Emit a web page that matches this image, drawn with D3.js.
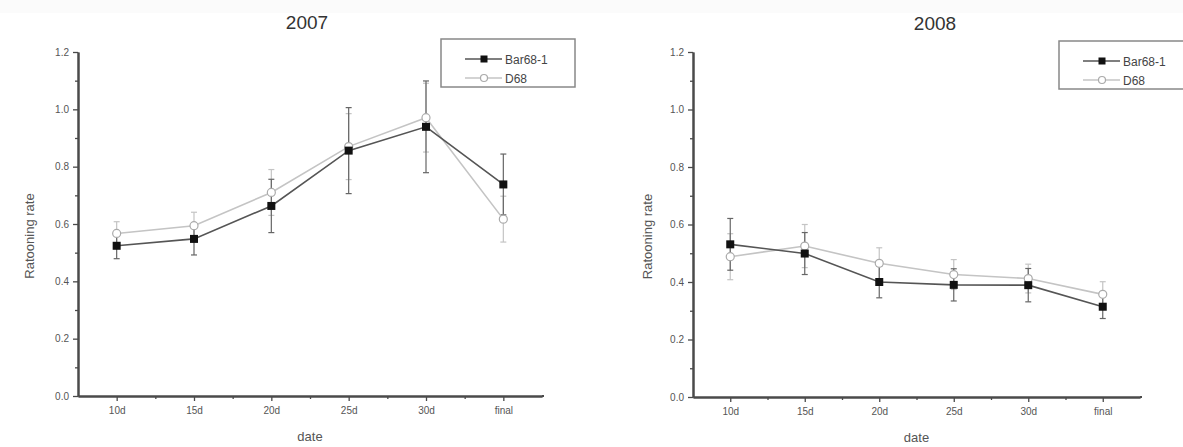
<!DOCTYPE html>
<html><head><meta charset="utf-8">
<script src="https://cdn.jsdelivr.net/npm/d3@7"></script>
<style>
body{margin:0;background:#fff;}
svg{display:block;font-family:"Liberation Sans",Arial,sans-serif;}
</style></head>
<body>
<svg id="c" width="1183" height="447"></svg>
<script>
const categories = ["10d","15d","20d","25d","30d","final"];
const yTicks = [0.0,0.2,0.4,0.6,0.8,1.0,1.2];
const seriesNames = ["Bar68-1","D68"];
const titles = ["2007","2008"];

const bar2007 = [0.524,0.548,0.663,0.856,0.939,0.738];
const bar2007Err = [0.045,0.056,0.093,0.150,0.160,0.106];
const d2007 = [0.567,0.594,0.710,0.870,0.971,0.617];
const d2007Err = [0.041,0.047,0.080,0.115,0.120,0.080];

const bar2008 = [0.531,0.499,0.400,0.390,0.389,0.314];
const bar2008Err = [0.090,0.073,0.055,0.056,0.058,0.041];
const d2008 = [0.488,0.525,0.465,0.426,0.412,0.357];
const d2008Err = [0.080,0.075,0.054,0.052,0.050,0.044];

const svg = d3.select("#c");
svg.append("rect").attr("x",0).attr("y",0).attr("width",1183).attr("height",13).attr("fill","#fbfbfb");

const panels = [
  {title:titles[0], bar:bar2007, barErr:bar2007Err, d:d2007, dErr:d2007Err,
   x0:78, x1:542, y0:396, y1:52, titleX:307, titleY:29, ylabX:34, legend:{x:441,y:39,w:134,h:48}},
  {title:titles[1], bar:bar2008, barErr:bar2008Err, d:d2008, dErr:d2008Err,
   x0:693, x1:1140, y0:397, y1:52, titleX:935, titleY:30, ylabX:652, legend:{x:1059,y:41,w:140,h:48}}
];

const light = "#c4c4c4", axisCol = "#4a4a4a", textCol = "#555";

panels.forEach(p => {
  const g = svg.append("g");
  const x = d3.scalePoint().domain(categories).range([p.x0, p.x1]).padding(0.5);
  const y = d3.scaleLinear().domain([0,1.2]).range([p.y0, p.y1]);

  const yAx = g.append("g").attr("transform",`translate(${p.x0},0)`)
    .call(d3.axisLeft(y).tickValues(yTicks).tickFormat(d3.format(".1f")).tickSize(5).tickPadding(4).tickSizeOuter(0));
  const yMinor = g.append("g").attr("transform",`translate(${p.x0},0)`)
    .call(d3.axisLeft(y).tickValues(d3.range(0.1,1.2,0.2)).tickFormat("").tickSize(3).tickSizeOuter(0));
  const xAx = g.append("g").attr("transform",`translate(0,${p.y0})`)
    .call(d3.axisBottom(x).tickSize(5).tickPadding(6).tickSizeOuter(0));
  const xMinorScale = d3.scaleLinear().domain([0,6]).range([p.x0,p.x1]);
  const xMinor = g.append("g").attr("transform",`translate(0,${p.y0})`)
    .call(d3.axisBottom(xMinorScale).tickValues([1,2,3,4,5]).tickFormat("").tickSize(3).tickSizeOuter(0));
  [yAx,yMinor,xAx,xMinor].forEach(a=>{
    a.select(".domain").attr("stroke",axisCol).attr("stroke-width",2);
    a.selectAll(".tick line").attr("stroke",axisCol).attr("stroke-width",1.3);
    a.selectAll(".tick text").attr("fill",textCol).attr("font-size",10);
  });
  g.append("line").attr("x1",p.x1).attr("x2",p.x1+2).attr("y1",p.y0).attr("y2",p.y0).attr("stroke",axisCol).attr("stroke-width",2);

  g.append("text").attr("x",p.titleX).attr("y",p.titleY).attr("text-anchor","middle")
    .attr("font-size",19).attr("fill","#333").text(p.title);
  g.append("text").attr("x",(p.x0+p.x1)/2).attr("y",p.y0+45).attr("text-anchor","middle")
    .attr("font-size",13).attr("fill","#555").text("date");
  g.append("text").attr("transform",`translate(${p.ylabX},${(p.y0+p.y1)/2+12}) rotate(-90)`)
    .attr("text-anchor","middle").attr("font-size",13).attr("fill","#555").text("Ratooning rate");

  const line = d3.line().x((d,i)=>x(categories[i])).y(d=>y(d));

  function errBars(vals, errs, col){
    const eg = g.append("g").attr("stroke",col).attr("stroke-width",1.2);
    vals.forEach((v,i)=>{
      const cx = x(categories[i]);
      eg.append("line").attr("x1",cx).attr("x2",cx).attr("y1",y(v-errs[i])).attr("y2",y(v+errs[i]));
      [v-errs[i], v+errs[i]].forEach(t=>{
        eg.append("line").attr("x1",cx-3).attr("x2",cx+3).attr("y1",y(t)).attr("y2",y(t));
      });
    });
  }
  errBars(p.d, p.dErr, light);
  errBars(p.bar, p.barErr, "#666");

  g.append("path").datum(p.d).attr("d",line).attr("fill","none").attr("stroke",light).attr("stroke-width",1.6);
  g.append("path").datum(p.bar).attr("d",line).attr("fill","none").attr("stroke","#555").attr("stroke-width",1.6);

  g.selectAll(".dmark").data(p.d).enter().append("circle")
    .attr("cx",(d,i)=>x(categories[i])).attr("cy",d=>y(d)).attr("r",4)
    .attr("fill","#fff").attr("stroke","#aaa").attr("stroke-width",1.2);
  g.selectAll(".bmark").data(p.bar).enter().append("rect")
    .attr("x",(d,i)=>x(categories[i])-4).attr("y",d=>y(d)-4).attr("width",8).attr("height",8)
    .attr("fill","#111");

  const L = p.legend;
  g.append("rect").attr("x",L.x).attr("y",L.y).attr("width",L.w).attr("height",L.h)
    .attr("fill","#fff").attr("stroke","#888").attr("stroke-width",1.5);
  const ly = [L.y+20, L.y+39];
  const lx0 = L.x+24, lx1 = L.x+61, lm = L.x+43;
  g.append("line").attr("x1",lx0).attr("x2",lx1).attr("y1",ly[0]).attr("y2",ly[0]).attr("stroke","#555").attr("stroke-width",1.4);
  g.append("rect").attr("x",lm-3.5).attr("y",ly[0]-3.5).attr("width",7).attr("height",7).attr("fill","#111");
  g.append("line").attr("x1",lx0).attr("x2",lx1).attr("y1",ly[1]).attr("y2",ly[1]).attr("stroke",light).attr("stroke-width",1.4);
  g.append("circle").attr("cx",lm).attr("cy",ly[1]).attr("r",3.5).attr("fill","#fff").attr("stroke","#aaa").attr("stroke-width",1.2);
  seriesNames.forEach((n,i)=>{
    g.append("text").attr("x",lx1+3).attr("y",ly[i]+4.5).attr("font-size",12).attr("fill","#444").text(n);
  });
});
</script>
</body></html>
